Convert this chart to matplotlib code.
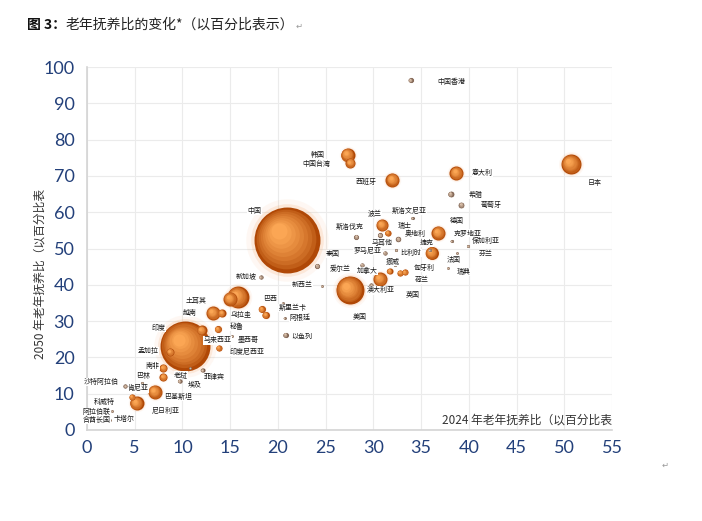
import numpy as np
import matplotlib.pyplot as plt
from matplotlib import transforms
from matplotlib.colors import to_rgb

plt.rcParams['font.family'] = ['Noto Sans CJK SC', 'DejaVu Sans']

# data: old-age dependency ratio 2024 (x), 2050 (y), bubble value (area)
countries = ['中国香港', '韩国', '中国台湾', '西班牙', '意大利', '日本', '希腊', '葡萄牙',
             '中国', '波兰', '斯洛文尼亚', '斯洛伐克', '瑞士', '奥地利', '马耳他', '罗马尼亚',
             '比利时', '德国', '克罗地亚', '保加利亚', '捷克', '法国', '芬兰', '瑞典',
             '匈牙利', '荷兰', '澳大利亚', '英国', '加拿大', '挪威', '爱尔兰', '泰国',
             '新加坡', '新西兰', '美国', '以色列', '巴西', '乌拉圭', '斯里兰卡', '阿根廷',
             '', '土耳其', '', '越南', '秘鲁', '马来西亚', '墨西哥', '印度尼西亚',
             '孟加拉', '印度', '南非', '巴林', '老挝', '菲律宾', '埃及', '沙特阿拉伯',
             '肯尼亚', '巴基斯坦', '科威特', '尼日利亚', '阿拉伯联\n合酋长国', '卡塔尔']
ratio_2024 = [33.9, 27.3, 27.6, 32.0, 38.7, 50.7, 38.1, 39.2,
              21.0, 30.9, 34.1, 28.2, 31.5, 32.6, 30.7, 31.2,
              32.4, 36.8, 38.2, 39.9, 35.9, 36.1, 38.8, 37.8,
              33.3, 32.8, 29.8, 30.7, 31.7, 32.3, 28.8, 24.1,
              18.2, 24.6, 27.5, 20.8, 18.3, 18.7, 20.5, 20.7,
              15.0, 15.8, 14.1, 13.2, 13.7, 12.0, 15.2, 13.8,
              8.7, 10.3, 8.0, 8.0, 10.8, 12.1, 9.7, 4.0,
              5.8, 7.1, 4.7, 5.2, 2.6, 2.4]
ratio_2050 = [96.4, 75.8, 73.6, 68.9, 70.8, 73.3, 65.0, 62.0,
              52.3, 56.5, 58.4, 53.2, 54.3, 52.6, 53.7, 48.8,
              49.6, 54.3, 52.1, 50.7, 49.6, 48.8, 48.8, 44.6,
              43.5, 43.3, 39.9, 41.6, 43.8, 45.5, 45.5, 45.2,
              42.1, 39.7, 38.6, 26.2, 33.3, 31.7, 35.0, 30.9,
              36.1, 36.6, 32.2, 32.2, 27.8, 27.5, 25.9, 22.6,
              21.5, 23.1, 17.1, 14.6, 17.1, 16.5, 13.5, 12.1,
              12.9, 10.5, 9.1, 7.4, 5.2, 2.8]
bubble_value = [6, 49, 25, 49, 49, 100, 8, 8,
                1089, 36, 2, 6, 9, 7, 6, 4,
                2, 49, 2, 2, 2, 42, 1.5, 1.5,
                9, 9, 4, 49, 9, 2, 4, 6,
                4, 1.5, 196, 6, 12, 12, 1.5, 1.5,
                49, 121, 16, 49, 12, 25, 1.5, 9,
                16, 625, 16, 16, 1.5, 4, 4, 4,
                2, 49, 9, 49, 1.5, 1.5]

# label offsets (pixels, right / up) from each bubble
label_offset = {
    '中国香港': (41, -2), '韩国': (-30, 0), '中国台湾': (-34, -1), '西班牙': (-26, -2),
    '意大利': (26, 0), '日本': (24, -19), '希腊': (25, -1), '葡萄牙': (30, 0),
    '中国': (-33, 29), '波兰': (-7, 11), '斯洛文尼亚': (-3, 7), '斯洛伐克': (-6, 10),
    '瑞士': (17, 7), '奥地利': (17, 5), '马耳他': (2, -8), '罗马尼亚': (-17, 2),
    '比利时': (15, -3), '德国': (18, 12), '克罗地亚': (16, 8), '保加利亚': (18, 5),
    '捷克': (-3, 7), '法国': (22, -7), '芬兰': (28, -1), '瑞典': (16, -4),
    '匈牙利': (19, 4), '荷兰': (22, -7), '澳大利亚': (9, -5), '英国': (33, -16),
    '加拿大': (-22, 0), '挪威': (-3, 3), '爱尔兰': (-22, -4), '泰国': (16, 12),
    '新加坡': (-15, 1), '新西兰': (-20, 1), '美国': (10, -27), '以色列': (16, -2),
    '巴西': (8, 10), '乌拉圭': (-24, 0), '斯里兰卡': (10, -5), '阿根廷': (15, 0),
    '土耳其': (-42, -4), '越南': (-23, 0), '秘鲁': (19, 2), '马来西亚': (16, -10),
    '墨西哥': (16, -4), '印度尼西亚': (28, -4), '孟加拉': (-22, 1), '印度': (-27, 18),
    '南非': (-11, 2), '巴林': (-20, 1), '老挝': (-9, -7), '菲律宾': (12, -7),
    '埃及': (15, -3), '沙特阿拉伯': (-24, 4), '肯尼亚': (-4, -5), '巴基斯坦': (23, -5),
    '科威特': (-28, -5), '尼日利亚': (29, -8), '阿拉伯联\n合酋长国': (-15, -5), '卡塔尔': (14, 1),
}

fig = plt.figure(figsize=(7.02, 5.21), dpi=100)
ax = fig.add_axes([87 / 702, 1 - 430 / 521, 525 / 702, 363 / 521])
ax.set_xlim(0, 55)
ax.set_ylim(0, 100)
ax.set_xticks(np.arange(0, 56, 5))
ax.set_yticks(np.arange(0, 101, 10))
ax.grid(True, color='#ebebeb', lw=0.8)
ax.set_axisbelow(True)
for sp in ['top', 'right']:
    ax.spines[sp].set_visible(False)
for sp in ['left', 'bottom']:
    ax.spines[sp].set_color('#d4d4d4')
    ax.spines[sp].set_linewidth(1.2)
ax.tick_params(length=0, labelsize=13, labelcolor='#23407a')
ax.tick_params(axis='x', pad=7)
ax.tick_params(axis='y', pad=9)
for lab in ax.get_xticklabels() + ax.get_yticklabels():
    lab.set_family('Lato')


def mix(c1, c2, t):
    a, b = np.array(to_rgb(c1)), np.array(to_rgb(c2))
    return tuple(a + (b - a) * t)


def sphere(x, y, val, z):
    s = 2.07 * val
    r_pt = np.sqrt(s) / 2
    if val >= 9:
        rim, hi, glow = '#b04806', '#fba654', '#f3a466'
    else:
        rim, hi, glow = '#6e5242', '#dcc3ad', '#c8a890'
    ax.scatter([x], [y], s=s * 1.25 ** 2, color=glow, alpha=0.08, lw=0, zorder=z)
    ax.scatter([x], [y], s=s * 1.1 ** 2, color=glow, alpha=0.18, lw=0, zorder=z)
    n = 9
    for k in range(n):
        frac = 1 - 0.85 * k / n
        t = k / (n - 1)
        off = (1 - frac) * r_pt * 0.35
        tr = ax.transData + transforms.ScaledTranslation(-off / 72, off / 72, fig.dpi_scale_trans)
        ax.scatter([x], [y], s=s * frac ** 2, color=mix(rim, hi, t ** 0.7),
                   lw=0, zorder=z, transform=tr)


order = np.argsort(bubble_value)[::-1]
for i, idx in enumerate(order):
    sphere(ratio_2024[idx], ratio_2050[idx], bubble_value[idx], 3 + i * 0.01)

for name, x, y in zip(countries, ratio_2024, ratio_2050):
    if not name:
        continue
    dx, dy = label_offset[name]
    ax.annotate(name, (x, y), xytext=(dx * 0.72, dy * 0.72), textcoords='offset points',
                ha='center', va='center', fontsize=5, color='#1a1a1a', linespacing=1.0,
                zorder=10, bbox=dict(boxstyle='square,pad=0.05', fc='white', ec='none'))

fig.text(40 / 702, 1 - 274 / 521, '2050 年老年抚养比（以百分比表', rotation=90,
         ha='center', va='center', fontsize=8.5, color='#333333')
ax.text(1.0, 10 / 363, '2024 年老年抚养比（以百分比表', transform=ax.transAxes,
        ha='right', va='center', fontsize=8.5, color='#333333', zorder=11)

t1 = fig.text(27 / 702, 1 - 25 / 521, '图 3：', fontsize=10, fontweight='bold',
              ha='left', va='center', color='#111111')
t2 = ax.annotate('老年抚养比的变化*（以百分比表示）', xy=(1, 0), xycoords=t1,
                 xytext=(0, 0), textcoords='offset points', fontsize=10, color='#222222',
                 ha='left', va='bottom', annotation_clip=False)
ax.annotate('↵', xy=(1, 0), xycoords=t2, xytext=(0.5, 1), textcoords='offset points',
            fontsize=6, color='#999999', ha='left', va='bottom', annotation_clip=False)
fig.text(665 / 702, 1 - 465 / 521, '↵', fontsize=6, color='#999999', ha='center', va='center')

fig.savefig('out.png', dpi=100)
